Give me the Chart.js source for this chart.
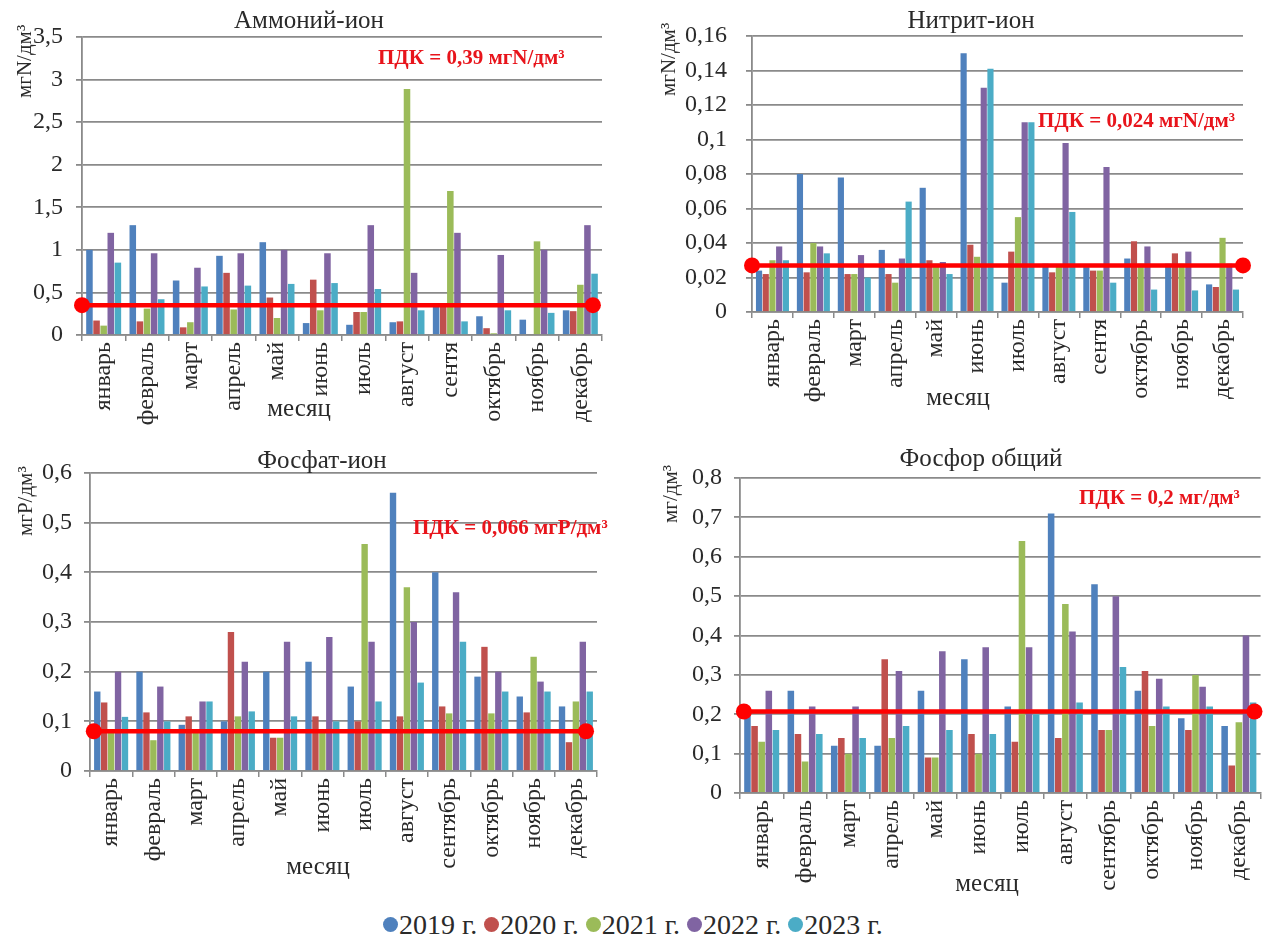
<!DOCTYPE html>
<html lang="ru">
<head>
<meta charset="utf-8">
<script src="https://cdn.jsdelivr.net/npm/chart.js@4.4.1/dist/chart.umd.min.js"></script>
<style>
  html, body { margin: 0; padding: 0; background: #fff; }
  body { width: 1269px; height: 939px; position: relative; overflow: hidden; font-family: "Liberation Serif", serif; color: #2a2a2a; }
  canvas { position: absolute; }
  .title { position: absolute; font-size: 25px; white-space: nowrap; transform: translateX(-50%); }
  .ytitle { position: absolute; font-size: 21px; white-space: nowrap; transform-origin: left top; transform: rotate(-90deg); }
  .pdk { position: absolute; font-size: 21px; font-weight: bold; color: #e8141b; white-space: nowrap; }
  .xname { position: absolute; font-size: 25px; white-space: nowrap; transform: translateX(-50%); }
  #legend { position: absolute; top: 909px; left: 383px; font-size: 28px; white-space: nowrap; }
  #legend span.dot { display: inline-block; width: 15px; height: 15px; border-radius: 50%; margin-right: 1px; vertical-align: 2px; }
</style>
</head>
<body>
<canvas id="c1" width="620" height="432" style="left:0;top:0"></canvas>
<canvas id="c2" width="629" height="432" style="left:640px;top:0"></canvas>
<canvas id="c3" width="620" height="460" style="left:0;top:440px"></canvas>
<canvas id="c4" width="629" height="460" style="left:640px;top:440px"></canvas>

<div class="title" style="left:309px;top:6px">Аммоний-ион</div>
<div class="title" style="left:971px;top:6px">Нитрит-ион</div>
<div class="title" style="left:322px;top:446px">Фосфат-ион</div>
<div class="title" style="left:981px;top:444px">Фосфор общий</div>

<div class="ytitle" style="left:12px;top:98px">мгN/дм³</div>
<div class="ytitle" style="left:656px;top:96px">мгN/дм³</div>
<div class="ytitle" style="left:13px;top:536px">мгР/дм³</div>
<div class="ytitle" style="left:658px;top:523px">мг/дм³</div>

<div class="pdk" style="left:378px;top:45px">ПДК = 0,39 мгN/дм³</div>
<div class="pdk" style="left:1038px;top:108px">ПДК = 0,024 мгN/дм³</div>
<div class="pdk" style="left:413px;top:515px">ПДК = 0,066 мгР/дм³</div>
<div class="pdk" style="left:1079px;top:485px">ПДК = 0,2 мг/дм³</div>

<div class="xname" style="left:299px;top:394px">месяц</div>
<div class="xname" style="left:958px;top:383px">месяц</div>
<div class="xname" style="left:318px;top:852px">месяц</div>
<div class="xname" style="left:987px;top:869px">месяц</div>

<div id="legend"></div>

<script>
const monthsShort = ["январь", "февраль", "март", "апрель", "май", "июнь", "июль", "август", "сентя", "октябрь", "ноябрь", "декабрь"];
const monthsFull = ["январь", "февраль", "март", "апрель", "май", "июнь", "июль", "август", "сентябрь", "октябрь", "ноябрь", "декабрь"];
const years = ["2019 г.", "2020 г.", "2021 г.", "2022 г.", "2023 г."];
const yearColors = ["#4f81bd", "#c0504d", "#9bbb59", "#8064a2", "#4bacc6"];

// Аммоний-ион, мгN/дм3
const ammonium2019 = [1.0, 1.29, 0.64, 0.93, 1.09, 0.14, 0.12, 0.15, 0.33, 0.22, 0.18, 0.29];
const ammonium2020 = [0.17, 0.16, 0.09, 0.73, 0.44, 0.65, 0.27, 0.16, 0.33, 0.08, 0.0, 0.28];
const ammonium2021 = [0.11, 0.31, 0.15, 0.3, 0.2, 0.29, 0.27, 2.89, 1.69, 0.02, 1.1, 0.59];
const ammonium2022 = [1.2, 0.96, 0.79, 0.96, 1.0, 0.96, 1.29, 0.73, 1.2, 0.94, 1.0, 1.29];
const ammonium2023 = [0.85, 0.42, 0.57, 0.58, 0.6, 0.61, 0.54, 0.29, 0.16, 0.29, 0.26, 0.72];

// Нитрит-ион, мгN/дм3
const nitrite2019 = [0.024, 0.08, 0.078, 0.036, 0.072, 0.15, 0.017, 0.028, 0.026, 0.031, 0.028, 0.016];
const nitrite2020 = [0.022, 0.023, 0.022, 0.022, 0.03, 0.039, 0.035, 0.023, 0.024, 0.041, 0.034, 0.0145];
const nitrite2021 = [0.03, 0.04, 0.022, 0.017, 0.028, 0.032, 0.055, 0.027, 0.024, 0.028, 0.028, 0.043];
const nitrite2022 = [0.038, 0.038, 0.033, 0.031, 0.029, 0.13, 0.11, 0.098, 0.084, 0.038, 0.035, 0.028];
const nitrite2023 = [0.03, 0.034, 0.02, 0.064, 0.022, 0.141, 0.11, 0.058, 0.017, 0.013, 0.0125, 0.013];

// Фосфат-ион, мгР/дм3
const phosphate2019 = [0.16, 0.2, 0.093, 0.1, 0.2, 0.22, 0.17, 0.56, 0.4, 0.19, 0.15, 0.13];
const phosphate2020 = [0.138, 0.118, 0.11, 0.28, 0.067, 0.11, 0.1, 0.11, 0.13, 0.25, 0.118, 0.058];
const phosphate2021 = [0.08, 0.062, 0.08, 0.11, 0.067, 0.08, 0.457, 0.37, 0.116, 0.116, 0.23, 0.14];
const phosphate2022 = [0.2, 0.17, 0.14, 0.22, 0.26, 0.27, 0.26, 0.3, 0.36, 0.2, 0.18, 0.26];
const phosphate2023 = [0.109, 0.1, 0.14, 0.12, 0.11, 0.1, 0.14, 0.178, 0.26, 0.16, 0.16, 0.16];

// Фосфор общий, мг/дм3
const phosphorus2019 = [0.2, 0.26, 0.12, 0.12, 0.26, 0.34, 0.22, 0.71, 0.53, 0.26, 0.19, 0.17];
const phosphorus2020 = [0.17, 0.15, 0.14, 0.34, 0.09, 0.15, 0.13, 0.14, 0.16, 0.31, 0.16, 0.07];
const phosphorus2021 = [0.13, 0.08, 0.1, 0.14, 0.09, 0.1, 0.64, 0.48, 0.16, 0.17, 0.3, 0.18];
const phosphorus2022 = [0.26, 0.22, 0.22, 0.31, 0.36, 0.37, 0.37, 0.41, 0.5, 0.29, 0.27, 0.4];
const phosphorus2023 = [0.16, 0.15, 0.14, 0.17, 0.16, 0.15, 0.2, 0.23, 0.32, 0.22, 0.22, 0.23];

// red PDK lines (level as drawn) and their ends in month-index units (-0.5 = left edge)
const pdkLevels = [0.35, 0.027, 0.08, 0.207];
const pdkSpans = [[-0.5, 11.29], [-0.5, 11.5], [-0.41, 11.24], [-0.41, 11.36]];

const yMax = [3.5, 0.16, 0.6, 0.8];
const yStep = [0.5, 0.02, 0.1, 0.1];

const gridColor = "#8a8a8a";
const family = "'Liberation Serif', serif";

function commaTick(v) {
  return String(Number(v.toFixed(3))).replace(".", ",");
}

function makeChart(id, labels, series, idx, box) {
  const datasets = series.map((values, i) => ({
    type: "bar",
    label: years[i],
    data: values,
    backgroundColor: yearColors[i],
    borderWidth: 0,
    barPercentage: 0.92,
    categoryPercentage: 0.82,
    order: 2,
  }));
  // same x axis as the bars (a second x axis would halve the bar width)
  datasets.push({
    type: "line",
    label: "ПДК",
    parsing: false,
    data: pdkSpans[idx].map((x) => ({ x: x, y: pdkLevels[idx] })),
    borderColor: "#ff0000",
    borderWidth: 4.5,
    pointRadius: 8,
    pointBackgroundColor: "#ff0000",
    pointBorderWidth: 0,
    clip: false,
    order: 1,
  });

  return new Chart(document.getElementById(id), {
    type: "bar",
    data: { labels: labels, datasets: datasets },
    options: {
      responsive: false,
      animation: false,
      layout: { padding: { left: 0, right: box.right, top: box.top, bottom: 0 } },
      plugins: { legend: { display: false }, tooltip: { enabled: false } },
      scales: {
        x: {
          grid: { drawOnChartArea: false, color: gridColor, tickLength: 6, lineWidth: 1.5 },
          border: { color: gridColor, width: 1.5 },
          ticks: { autoSkip: false, minRotation: 90, maxRotation: 90, color: "#2a2a2a", font: { family: family, size: 24 }, padding: 1 },
          afterFit: (s) => { s.height = box.xh; },
        },
        y: {
          min: 0,
          max: yMax[idx],
          grid: { color: gridColor, lineWidth: 1.8, tickLength: 6 },
          border: { color: gridColor, width: 1.8 },
          ticks: { stepSize: yStep[idx], color: "#2a2a2a", font: { family: family, size: 24 }, padding: box.tp, callback: commaTick },
          afterFit: (s) => { s.width = box.yw; },
        },
      },
    },
  });
}

makeChart("c1", monthsShort, [ammonium2019, ammonium2020, ammonium2021, ammonium2022, ammonium2023], 0, { yw: 82, right: 18, top: 37, xh: 97, tp: 13 });
makeChart("c2", monthsShort, [nitrite2019, nitrite2020, nitrite2021, nitrite2022, nitrite2023], 1, { yw: 112, right: 26, top: 36, xh: 120, tp: 19 });
makeChart("c3", monthsFull, [phosphate2019, phosphate2020, phosphate2021, phosphate2022, phosphate2023], 2, { yw: 90, right: 23, top: 33, xh: 129, tp: 12 });
makeChart("c4", monthsFull, [phosphorus2019, phosphorus2020, phosphorus2021, phosphorus2022, phosphorus2023], 3, { yw: 100, right: 1, top: 38, xh: 107, tp: 12 });

// shared legend
document.getElementById("legend").innerHTML = years
  .map((y, i) => `<span class="dot" style="background:${yearColors[i]}"></span>${y} `)
  .join("");
</script>
</body>
</html>
